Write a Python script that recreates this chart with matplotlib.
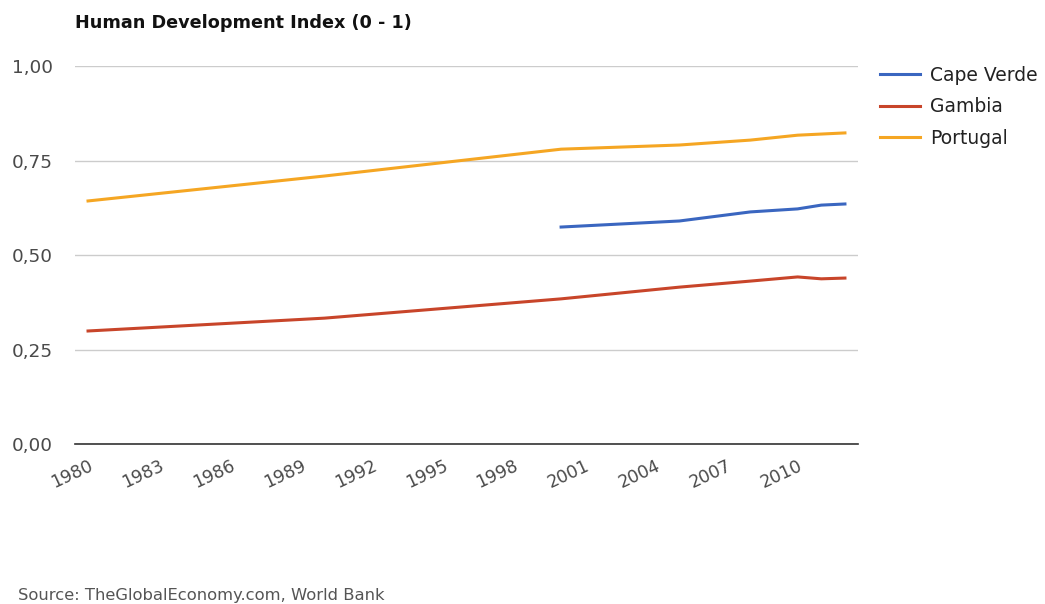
import matplotlib.pyplot as plt
from matplotlib.ticker import FuncFormatter

plt.rcParams["font.family"] = ["DejaVu Sans"]

years = [1980, 1990, 2000, 2005, 2008, 2010, 2011, 2012]
portugal = [0.643, 0.709, 0.780, 0.791, 0.804, 0.817, 0.820, 0.823]
gambia = [0.299, 0.333, 0.384, 0.415, 0.431, 0.442, 0.437, 0.439]

cv_years = [2000, 2005, 2008, 2010, 2011, 2012]
cape_verde = [0.574, 0.590, 0.614, 0.622, 0.632, 0.635]

xticks = list(range(1980, 2011, 3))
yticks = [0, 0.25, 0.5, 0.75, 1.0]

fig = plt.figure(figsize=(10.45, 6.04), dpi=100, facecolor="white")
ax = fig.add_axes([0.0718, 0.2649, 0.7492, 0.6258])

ax.plot(cv_years, cape_verde, color="#3a66c0", lw=2.2, label="Cape Verde")
ax.plot(years, gambia, color="#c8452a", lw=2.2, label="Gambia")
ax.plot(years, portugal, color="#f5a623", lw=2.2, label="Portugal")

ax.set_xlim(1979.45, 2012.55)
ax.set_ylim(0, 1.0)
ax.set_yticks(yticks)
ax.yaxis.set_major_formatter(FuncFormatter(lambda v, p: f"{v:.2f}".replace(".", ",")))
ax.set_xticks(xticks)
ax.set_xticklabels([str(y) for y in xticks], rotation=25, ha="right", va="top",
                   rotation_mode="anchor")
ax.tick_params(axis="both", length=0, labelcolor="#4a4a4a")
ax.tick_params(axis="y", pad=16, labelsize=13.3)
ax.tick_params(axis="x", pad=9, labelsize=12.5)

ax.grid(axis="y", color="#cccccc", lw=1)
ax.set_axisbelow(True)
for s in ["top", "right", "left"]:
    ax.spines[s].set_visible(False)
ax.spines["bottom"].set_color("#333333")
ax.spines["bottom"].set_linewidth(1.2)

fig.text(0.0718, 0.962, "Human Development Index (0 - 1)", fontsize=12.7,
         fontweight="bold", color="#111111", va="center")

ax.legend(loc="upper left", bbox_to_anchor=(1.007, 1.045), frameon=False,
          fontsize=13.5, handlelength=2.13, handletextpad=0.53, labelspacing=0.66,
          labelcolor="#222222")

fig.text(0.017, 0.002, "Source: TheGlobalEconomy.com, World Bank", fontsize=11.8,
         color="#555555", va="bottom")

fig.savefig("out.png", dpi=100, facecolor="white")
